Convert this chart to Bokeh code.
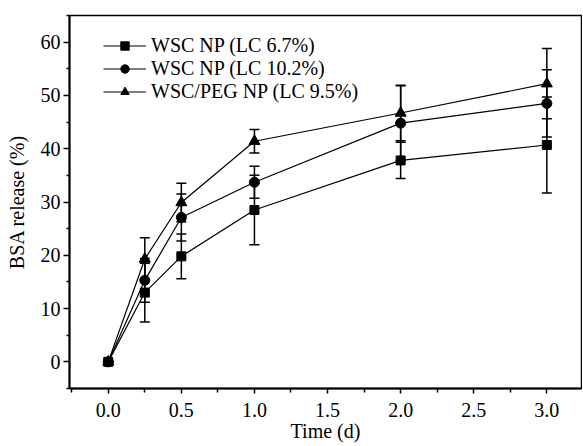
from bokeh.plotting import figure
from bokeh.models import (ColumnDataSource, Whisker, TeeHead, Legend, LegendItem,
                          FixedTicker, Range1d)
from bokeh.embed import file_html
from bokeh.resources import INLINE

time = [0.0, 0.25, 0.5, 1.0, 2.0, 3.0]
wsc67 = [0.0, 13.0, 19.8, 28.5, 37.8, 40.7]
wsc67_err = [0.0, 5.5, 4.2, 6.5, 3.4, 9.0]
wsc102 = [0.0, 15.3, 27.1, 33.7, 44.8, 48.5]
wsc102_err = [0.0, 4.1, 4.4, 3.0, 7.0, 6.3]
peg95 = [0.0, 19.3, 29.9, 41.4, 46.7, 52.2]
peg95_err = [0.0, 4.0, 3.6, 2.2, 5.2, 6.6]

labels = ["WSC NP (LC 6.7%)", "WSC NP (LC 10.2%)", "WSC/PEG NP (LC 9.5%)"]
markers = ["square", "circle", "triangle"]
sizes = [9, 10, 11]
x_ticks = [0.0, 0.5, 1.0, 1.5, 2.0, 2.5, 3.0]
y_ticks = [0, 10, 20, 30, 40, 50, 60]
x_title = "Time (d)"
y_title = "BSA release (%)"

FONT = "Liberation Serif"
FS = "20px"

p = figure(width=582, height=445, output_backend="svg", toolbar_location=None,
           x_range=Range1d(-0.265, 3.237), y_range=Range1d(-5, 65))
p.min_border_left = 69
p.min_border_right = 1
p.min_border_top = 15
p.min_border_bottom = 57
p.xgrid.visible = False
p.ygrid.visible = False
p.outline_line_color = "black"
p.outline_line_width = 1.5
p.background_fill_color = "white"
p.border_fill_color = "white"

p.xaxis.ticker = FixedTicker(ticks=x_ticks, minor_ticks=[-0.25, 0.25, 0.75, 1.25, 1.75, 2.25, 2.75, 3.25])
p.yaxis.ticker = FixedTicker(ticks=y_ticks, minor_ticks=[-5, 5, 15, 25, 35, 45, 55, 65])
p.xaxis.major_label_overrides = {t: f"{t:.1f}" for t in x_ticks}

for ax in (p.xaxis[0], p.yaxis[0]):
    ax.axis_line_width = 2
    ax.axis_line_color = "black"
    ax.major_tick_in = 0
    ax.minor_tick_in = 0
    ax.major_tick_line_width = 1.5
    ax.minor_tick_line_width = 1.5
    ax.major_label_text_font = FONT
    ax.major_label_text_font_size = FS
    ax.major_label_text_color = "black"
    ax.axis_label_text_font = FONT
    ax.axis_label_text_font_size = FS
    ax.axis_label_text_font_style = "normal"
    ax.axis_label_text_color = "black"

p.xaxis.major_tick_out = 5
p.xaxis.minor_tick_out = 4
p.xaxis.major_label_standoff = 9
p.xaxis.axis_label = x_title
p.xaxis.axis_label_standoff = 0

p.yaxis.major_tick_out = 6
p.yaxis.minor_tick_out = 3
p.yaxis.major_label_standoff = 3
p.yaxis.axis_label = y_title
p.yaxis.axis_label_standoff = 10

series = [(wsc67, wsc67_err), (wsc102, wsc102_err), (peg95, peg95_err)]
items = []
for (vals, errs), lab, mk, sz in zip(series, labels, markers, sizes):
    src = ColumnDataSource(dict(x=time, y=vals,
                                upper=[v + e for v, e in zip(vals, errs)],
                                lower=[v - e for v, e in zip(vals, errs)]))
    w = Whisker(base="x", upper="upper", lower="lower", source=src,
                line_color="black", line_width=1.5,
                upper_head=TeeHead(size=10, line_width=1.5, line_color="black"),
                lower_head=TeeHead(size=10, line_width=1.5, line_color="black"))
    p.add_layout(w)
    ln = p.line("x", "y", source=src, line_color="black", line_width=1.2)
    sc = p.scatter("x", "y", source=src, marker=mk, size=sz,
                   fill_color="black", line_color="black")
    items.append(LegendItem(label=lab, renderers=[ln, sc]))

legend = Legend(items=items, location=(34, 285))
legend.padding = 0
legend.margin = 0
legend.spacing = -2
legend.glyph_width = 43
legend.glyph_height = 21
legend.label_height = 21
legend.label_standoff = 5
legend.label_text_font = FONT
legend.label_text_font_size = FS
legend.label_text_color = "black"
legend.label_text_line_height = 1.0
legend.border_line_color = None
legend.background_fill_alpha = 0
p.add_layout(legend)

open("out.html", "w").write(file_html(p, INLINE))
